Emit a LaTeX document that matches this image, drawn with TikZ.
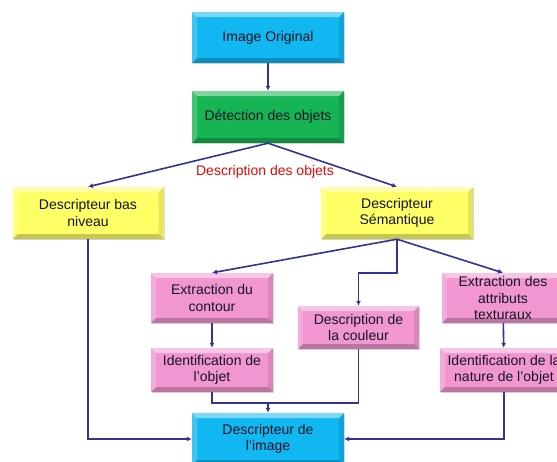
\documentclass[tikz,border=0pt]{standalone}
\usepackage{fontspec}
\setmainfont{Liberation Sans}
\usepackage{tikz}
\usetikzlibrary{calc, arrows.meta, shadows}

\definecolor{boxcyan}{RGB}{17,183,240}
\definecolor{boxgreen}{RGB}{22,180,82}
\definecolor{boxyellow}{RGB}{255,255,102}
\definecolor{boxpink}{RGB}{242,150,208}
\definecolor{linkblue}{RGB}{51,51,150}
\definecolor{labelred}{RGB}{225,10,10}
\definecolor{textnavy}{RGB}{20,20,40}

\tikzset{
    bevel/.style = {path picture = {
        \coordinate (bnw) at (path picture bounding box.north west);
        \coordinate (bne) at (path picture bounding box.north east);
        \coordinate (bsw) at (path picture bounding box.south west);
        \coordinate (bse) at (path picture bounding box.south east);
        \fill[white, opacity = 0.45] (bnw) -- (bne) -- ($(bne) + (-5pt, -5pt)$) -- ($(bnw) + (5pt, -5pt)$) -- cycle;
        \fill[white, opacity = 0.2] (bnw) -- (bsw) -- ($(bsw) + (5pt, 5pt)$) -- ($(bnw) + (5pt, -5pt)$) -- cycle;
        \fill[black, opacity = 0.22] (bsw) -- (bse) -- ($(bse) + (-5pt, 5pt)$) -- ($(bsw) + (5pt, 5pt)$) -- cycle;
        \fill[black, opacity = 0.1] (bne) -- (bse) -- ($(bse) + (-5pt, 5pt)$) -- ($(bne) + (-5pt, -5pt)$) -- cycle;
    }},
    etape/.style = {bevel, fill = #1, inner sep = 0pt, align = center, text = textnavy,
        font = \fontsize{14}{16.5}\selectfont,
        drop shadow = {opacity = 0.3, shadow xshift = 1.2pt, shadow yshift = -1.2pt}},
    lien/.style = {linkblue, line width = 1.6pt, -{Latex[length = 5pt, width = 5pt]}},
    trait/.style = {linkblue, line width = 1.6pt},
}

\begin{document}
\begin{tikzpicture}[x = 1pt, y = -1pt]
            \clip (0, 0) rectangle (557, 461);
            \useasboundingbox (0, 0) rectangle (557, 461);
            \fill[white] (0, 0) rectangle (557, 461);

            \coordinate (coude) at (0, 273);

            \node[etape = boxcyan, minimum width = 152pt, minimum height = 51pt] (orig) at (268, 37.5) {Image Original};
            \node[etape = boxgreen, minimum width = 152pt, minimum height = 52pt] (detect) at (268, 117) {Détection des objets};
            \node[etape = boxyellow, minimum width = 151pt, minimum height = 52pt] (bas) at (88, 213) {Descripteur bas\\niveau};
            \node[etape = boxyellow, minimum width = 152pt, minimum height = 52pt] (sem) at (397, 213) {Descripteur\\Sémantique};

            \node[etape = boxpink, minimum width = 122pt, minimum height = 50pt] (contour) at (212, 298) {Extraction du\\contour};
            \node[etape = boxpink, minimum width = 121pt, minimum height = 43pt] (couleur) at (358.5, 327.5) {Description de\\la couleur};
            \node[etape = boxpink, minimum width = 122pt, minimum height = 50pt] (attrib) at (503, 298) {Extraction des\\attributs\\texturaux};
            \node[etape = boxpink, minimum width = 122pt, minimum height = 44pt] (ident) at (212, 370) {Identification de\\l’objet};
            \node[etape = boxpink, minimum width = 128pt, minimum height = 44pt] (nature) at (504, 370) {Identification de la\\nature de l’objet};

            \node[etape = boxcyan, minimum width = 152pt, minimum height = 52pt] (image) at (268, 439) {Descripteur de\\l’image};

            \coordinate (jonction) at ($(image.north) + (0, -10)$);

            \node[text = labelred, font = \fontsize{14}{16.5}\selectfont] (legende) at (265, 172) {Description des objets};

            % liens
            \draw[lien] (orig) -- (detect);
            \draw[lien] (detect.south) -- (bas.north);
            \draw[lien] (detect.south) -- (sem.north);

            \draw[lien] (sem.south) -- (contour.north);
            \draw[lien] (sem.south) -- (attrib.north);
            \draw[lien] (sem.south) -- (sem.south |- coude) -| (couleur.north);

            \draw[lien] (contour) -- (ident);
            \draw[lien] (attrib) -- (nature);

            \draw[trait] (ident.south) |- (couleur.south |- jonction) -- (couleur.south);
            \draw[lien] (jonction) -- (image.north);

            \draw[lien] (bas.south) |- (image.west);
            \draw[lien] (nature.south) |- (image.east);

        \end{tikzpicture}
\end{document}
